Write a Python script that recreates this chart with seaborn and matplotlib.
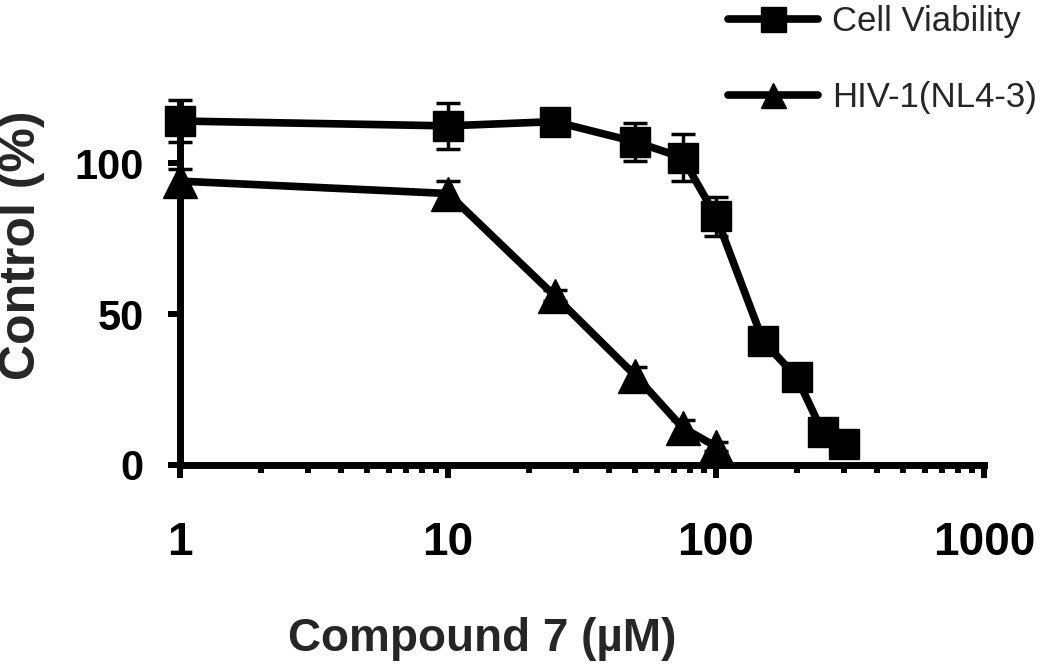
import matplotlib
matplotlib.use("Agg")
import matplotlib.pyplot as plt
import seaborn as sns
import numpy as np
import pandas as pd

# concentrations (uM) and % of control
cv_conc = [1, 10, 25, 50, 75, 100, 150, 200, 250, 300]
cv_val = [113.9, 112.3, 113.7, 107.0, 101.8, 82.3, 41.0, 29.1, 10.9, 7.0]
cv_err = [7.0, 7.7, 3.0, 6.3, 7.8, 6.5, 2.0, 2.0, 2.0, 2.0]

hiv_conc = [1, 10, 25, 50, 75, 100]
hiv_val = [94.0, 89.9, 56.0, 29.6, 12.4, 6.1]
hiv_err = [4.0, 4.0, 1.8, 3.0, 2.5, 1.5]

xtick_vals = [1, 10, 100, 1000]
xtick_labels = ['1', '10', '100', '1000']
ytick_vals = [0, 50, 100]


def main():
  sns.set_style("ticks")
  plt.rcParams['font.family'] = ['Liberation Sans', 'DejaVu Sans']

  fig = plt.figure(figsize=(10.5, 6.68), dpi=100)
  ax = fig.add_axes([180 / 1050, 1 - 465 / 668, (984 - 180) / 1050, (465 - 102.6) / 668])

  cv = pd.DataFrame({'conc': cv_conc, 'val': cv_val, 'err': cv_err})
  hiv = pd.DataFrame({'conc': hiv_conc, 'val': hiv_val, 'err': hiv_err})

  # error bars go under the markers
  for d in (cv, hiv):
    ax.errorbar(d['conc'], d['val'], yerr=d['err'], fmt='none', ecolor='black',
                elinewidth=2.5, capsize=8.6, capthick=2.5, zorder=2, clip_on=False)

  sns.lineplot(data=cv, x='conc', y='val', ax=ax, color='black', linewidth=5.5,
               marker='s', markersize=21, markeredgewidth=1, markeredgecolor='black',
               label='Cell Viability', zorder=3, clip_on=False)
  sns.lineplot(data=hiv, x='conc', y='val', ax=ax, color='black', linewidth=5.5,
               marker='^', markersize=24, markeredgewidth=1, markeredgecolor='black',
               label='HIV-1(NL4-3)', zorder=3, clip_on=False)

  ax.set_xscale('log')
  ax.set_xlim(1, 1000)
  ax.set_ylim(0, 120)
  ax.set_xticks(xtick_vals)
  ax.set_xticklabels(xtick_labels, fontweight='bold', fontsize=33)
  ax.set_yticks(ytick_vals)
  ax.set_yticklabels([str(v) for v in ytick_vals], fontweight='bold', fontsize=30)
  ax.yaxis.set_minor_locator(matplotlib.ticker.NullLocator())

  for side in ('top', 'right'):
    ax.spines[side].set_visible(False)
  for side in ('left', 'bottom'):
    ax.spines[side].set_linewidth(5)
    ax.spines[side].set_color('black')

  ax.tick_params(axis='x', which='major', direction='out', length=9, width=4.3,
                 pad=31, colors='black')
  ax.tick_params(axis='x', which='minor', direction='out', length=6, width=4.3, colors='black')
  ax.tick_params(axis='y', which='major', direction='out', length=9, width=4.3,
                 pad=17, colors='black')

  ax.set_xlabel('Compound 7 (µM)', fontsize=33, fontweight='bold')
  ax.set_ylabel('Control (%)', fontsize=36, fontweight='bold')
  ax.xaxis.set_label_coords(0.376, -0.42)
  ax.yaxis.set_label_coords(-0.168, 0.605)

  ax.get_legend().remove()
  handles, labels = ax.get_legend_handles_labels()
  leg = fig.legend(handles, labels, loc='upper left', bbox_to_anchor=(728 / 1050, 0.993),
                   frameon=False, fontsize=25, handlelength=2.6, handletextpad=0.4,
                   labelspacing=1.26, borderpad=0, borderaxespad=0)
  for h in leg.legend_handles:
    h.set_markersize(18)

  fig.savefig('out.png', dpi=100)


if __name__ == "__main__":
  main()
